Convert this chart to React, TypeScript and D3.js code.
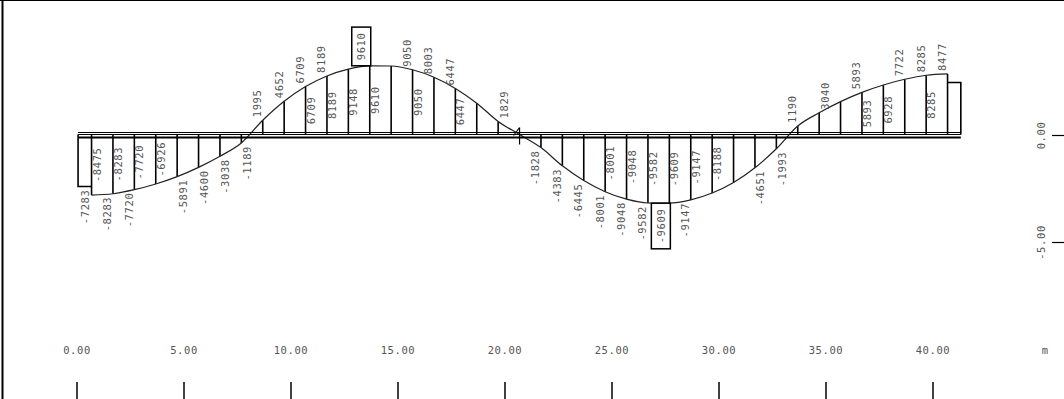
import React, { useMemo } from "react";
import * as d3 from "d3";

// moment values at the section points (one every metre)
const nodeValues = [
    -8475, -8283, -7720, -6926, -5891, -4600, -3038, -1189, 1995, 4652,
    6709, 8189, 9148, 9610, 9582, 9050, 8003, 6447, 4384, 1829,
    0, -1828, -4383, -6445, -8001, -9048, -9582, -9609, -9147, -8188,
    -6708, -4651, -1993, 1190, 3040, 4601, 5893, 6928, 7722, 8285,
    8477,
];
const firstNode = 0.68; // m
const nodeStep = 1.0; // m
const beamStart = 0.05;
const beamEnd = 41.3;
const startValue = -7283;
const endValue = 7283;

// which labels the program printed
const outsideShown = [1, 2, 4, 5, 6, 7, 8, 9, 10, 11, 13, 15, 16, 17, 19, 21, 22, 23, 24, 25, 26, 27, 28, 31, 32, 33, 34, 36, 38, 39, 40];
const insideShown = [0, 1, 2, 3, 10, 11, 12, 13, 15, 17, 24, 25, 26, 27, 28, 29, 36, 37, 39];
const boxedNodes = [13, 27];
const labelRight = [4, 5, 6, 7, 19, 31, 32, 34];
const hingeNode = 20;

const xTicks = [0, 5, 10, 15, 20, 25, 30, 35, 40];
const yTicks = [0, -5];

const W = 1064;
const H = 399;
const font = "DejaVu Sans Mono, monospace";
const fs = 10.5;
const ls = 0.6;
const textColor = "#555";
const charW = fs * 0.602 + ls;

const Label: React.FC<any> = ({ x, y, anchor, text }) => (
    <text
        transform={`translate(${x},${y}) rotate(-90)`}
        textAnchor={anchor}
        dominantBaseline="central"
        fontFamily={font}
        fontSize={fs}
        letterSpacing={ls}
        fill={textColor}
    >
        {text}
    </text>
);

export default function App() {
    const x = useMemo(() => d3.scaleLinear().domain([0, 40]).range([77, 933]), []);
    const yGeo = useMemo(() => d3.scaleLinear().domain([0, -5]).range([135.5, 242.5]), []);
    const m = useMemo(
        () => d3.scaleLinear().domain([-10000, 10000]).range([134.5 + 71.5, 134.5 - 71.5]),
        []
    );
    const y0 = m(0);

    const nodes = nodeValues.map((v, i) => ({ i, x: firstNode + i * nodeStep, v }));

    const line = d3
        .line<any>()
        .x((d) => x(d.x))
        .y((d) => m(d.v))
        .curve(d3.curveMonotoneX);

    const fmt = (v: number) => `${v}`;

    return (
        <svg width={W} height={H} style={{ position: "absolute", left: 0, top: 0, background: "#fff" }}>
            {/* frame */}
            <line x1={2.5} x2={2.5} y1={0} y2={H} stroke="#000" strokeWidth={2} />
            <line x1={0} x2={W} y1={0.5} y2={0.5} stroke="#000" strokeWidth={1} />

            {/* end boxes */}
            <path
                d={`M${x(beamStart)},${y0}V${m(startValue)}H${x(firstNode)}`}
                fill="none"
                stroke="#000"
                strokeWidth={1.6}
            />
            <path
                d={`M${x(nodes[nodes.length - 1].x)},${m(endValue)}H${x(beamEnd)}V${y0}`}
                fill="none"
                stroke="#000"
                strokeWidth={1.6}
            />

            {/* section verticals */}
            {nodes
                .filter((d) => d.v !== 0)
                .map((d) => (
                    <line
                        key={`v${d.i}`}
                        x1={x(d.x)}
                        x2={x(d.x)}
                        y1={y0}
                        y2={m(d.v)}
                        stroke="#000"
                        strokeWidth={1.6}
                    />
                ))}

            {/* hinge mark */}
            <path
                d={`M${x(nodes[hingeNode].x)},${y0 - 7}V${y0 + 10}M${x(nodes[hingeNode].x) - 6},${y0 + 1}L${x(nodes[hingeNode].x)},${y0 - 7}`}
                fill="none"
                stroke="#000"
                strokeWidth={1.2}
            />

            {/* diagram curve */}
            <path d={line(nodes) || ""} fill="none" stroke="#222" strokeWidth={1.2} />

            {/* beam */}
            <line x1={x(beamStart)} x2={x(beamEnd)} y1={132.5} y2={132.5} stroke="#000" strokeWidth={1} />
            <line x1={x(beamStart)} x2={x(beamEnd)} y1={134.5} y2={134.5} stroke="#000" strokeWidth={1} />
            <line x1={x(beamStart)} x2={x(beamEnd)} y1={137.5} y2={137.5} stroke="#000" strokeWidth={2} />

            {/* start value label */}
            <Label
                x={(x(beamStart) + x(firstNode)) / 2}
                y={m(startValue) + 3}
                anchor="end"
                text={fmt(startValue)}
            />

            {/* inside labels */}
            {insideShown.map((i) => {
                const d = nodes[i];
                return (
                    <Label
                        key={`in${i}`}
                        x={x(d.x) + 5}
                        y={(y0 + m(d.v)) / 2}
                        anchor="middle"
                        text={fmt(d.v)}
                    />
                );
            })}

            {/* outside labels */}
            {outsideShown.map((i) => {
                const d = nodes[i];
                const cy = m(d.v);
                const pos = d.v > 0;
                if (boxedNodes.includes(i)) {
                    const len = fmt(d.v).length * charW;
                    const bh = len + 11;
                    const bx = x(d.x) - 18;
                    const by = pos ? cy - bh : cy;
                    return (
                        <g key={`out${i}`}>
                            <rect x={bx} y={by} width={19} height={bh} fill="#fff" stroke="#000" strokeWidth={1.5} />
                            <Label x={bx + 9.5} y={by + bh / 2} anchor="middle" text={fmt(d.v)} />
                        </g>
                    );
                }
                const lx = labelRight.includes(i) ? x(d.x) + 5.5 : x(d.x) - 5.5;
                return (
                    <Label
                        key={`out${i}`}
                        x={lx}
                        y={pos ? cy - 3 : cy + 3}
                        anchor={pos ? "start" : "end"}
                        text={fmt(d.v)}
                    />
                );
            })}

            {/* right axis */}
            {yTicks.map((t) => (
                <g key={`y${t}`}>
                    <line x1={1052} x2={W} y1={yGeo(t)} y2={yGeo(t)} stroke="#000" strokeWidth={1.2} />
                    <Label x={1041} y={yGeo(t)} anchor="middle" text={t.toFixed(2)} />
                </g>
            ))}

            {/* bottom axis */}
            {xTicks.map((t) => (
                <g key={`x${t}`}>
                    <line x1={x(t)} x2={x(t)} y1={382} y2={H} stroke="#000" strokeWidth={1.5} />
                    <text
                        x={x(t)}
                        y={350}
                        textAnchor="middle"
                        dominantBaseline="central"
                        fontFamily={font}
                        fontSize={fs}
                        letterSpacing={ls}
                        fill={textColor}
                    >
                        {t.toFixed(2)}
                    </text>
                </g>
            ))}
            <text
                x={1045}
                y={350}
                textAnchor="middle"
                dominantBaseline="central"
                fontFamily={font}
                fontSize={fs}
                fill={textColor}
            >
                m
            </text>
        </svg>
    );
}
